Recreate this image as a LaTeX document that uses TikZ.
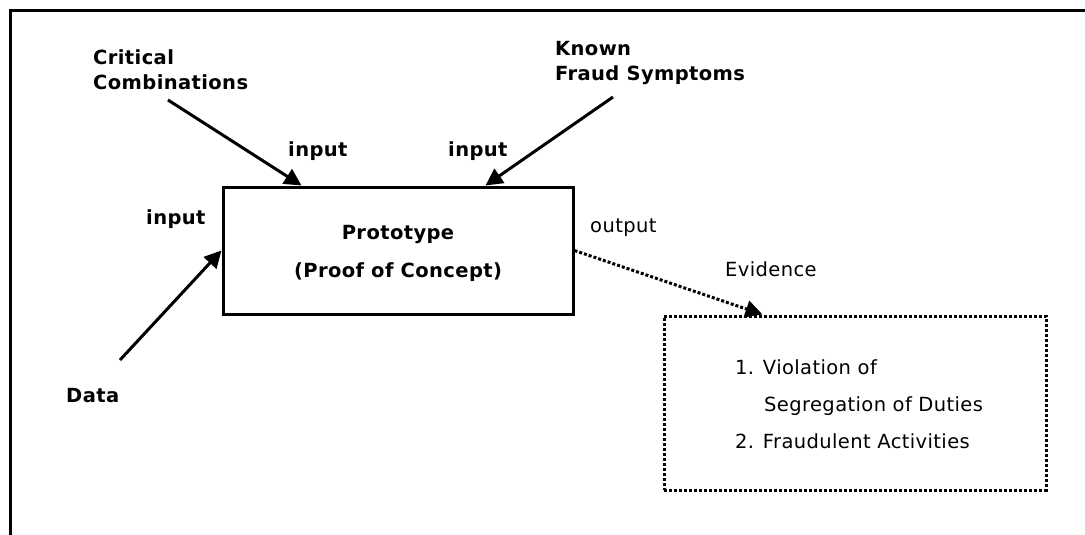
\documentclass[tikz,border=0pt]{standalone}
\usepackage{fontspec}
\setmainfont{DejaVu Sans}[LetterSpace=2]
\usetikzlibrary{arrows.meta}
\begin{document}
\begin{tikzpicture}[x=1pt,y=-1pt,
  txt/.style={font=\fontsize{19.5}{23}\selectfont, inner sep=0pt, anchor=base west},
  btxt/.style={txt, font=\fontsize{19.5}{23}\selectfont\bfseries},
  arr/.style={line width=3pt, -{Triangle[length=17pt,width=17pt]}},
  dots/.style={line width=3pt, dash pattern=on 3pt off 2pt},
]
\useasboundingbox (0,0) rectangle (1085,535);
\fill[white] (0,0) rectangle (1085,535);
% outer frame (only top and left edges fall inside the page)
\draw[line width=3pt] (10,540) -- (10,11) -- (1090,11);

% process box
\node[draw, line width=3pt, minimum width=350pt, minimum height=127pt, inner sep=0pt] (proto) at (398,250.5) {};
\node[btxt, anchor=base] (protoA) at (398,239) {Prototype};
\node[btxt, anchor=base] (protoB) at (398,277) {(Proof of Concept)};

% evidence box
\node[draw, dots, minimum width=382pt, minimum height=174pt, inner sep=0pt] (ev) at (855,403) {};
\node[txt] (ev1) at (735,374) {1. Violation of};
\node[txt] (ev2) at (764,411) {Segregation of Duties};
\node[txt] (ev3) at (735,448) {2. Fraudulent Activities};

% inputs
\node[btxt] (cc1) at (93,65) {Critical};
\node[btxt] (cc2) at (93,89) {Combinations};
\node[btxt] (kf1) at (555,56) {Known};
\node[btxt] (kf2) at (555,81) {Fraud Symptoms};
\node[btxt] (data) at (66,402) {Data};
\node[btxt] (in1) at (288,156) {input};
\node[btxt] (in2) at (448,156) {input};
\node[btxt] (in3) at (146,224) {input};
\node[txt] (out) at (590,232) {output};
\node[txt] (evl) at (725,276) {Evidence};

\coordinate (ccs) at (168,100);
\coordinate (kfs) at (613,97);
\coordinate (das) at (120,360);
\draw[arr] (ccs) -- ([xshift=80pt]proto.north west);
\draw[arr] (kfs) -- ([xshift=264pt]proto.north west);
\draw[arr] (das) -- (proto.west);
\draw[arr, dots] (proto.east) -- ([xshift=100pt]ev.north west);
\end{tikzpicture}
\end{document}
